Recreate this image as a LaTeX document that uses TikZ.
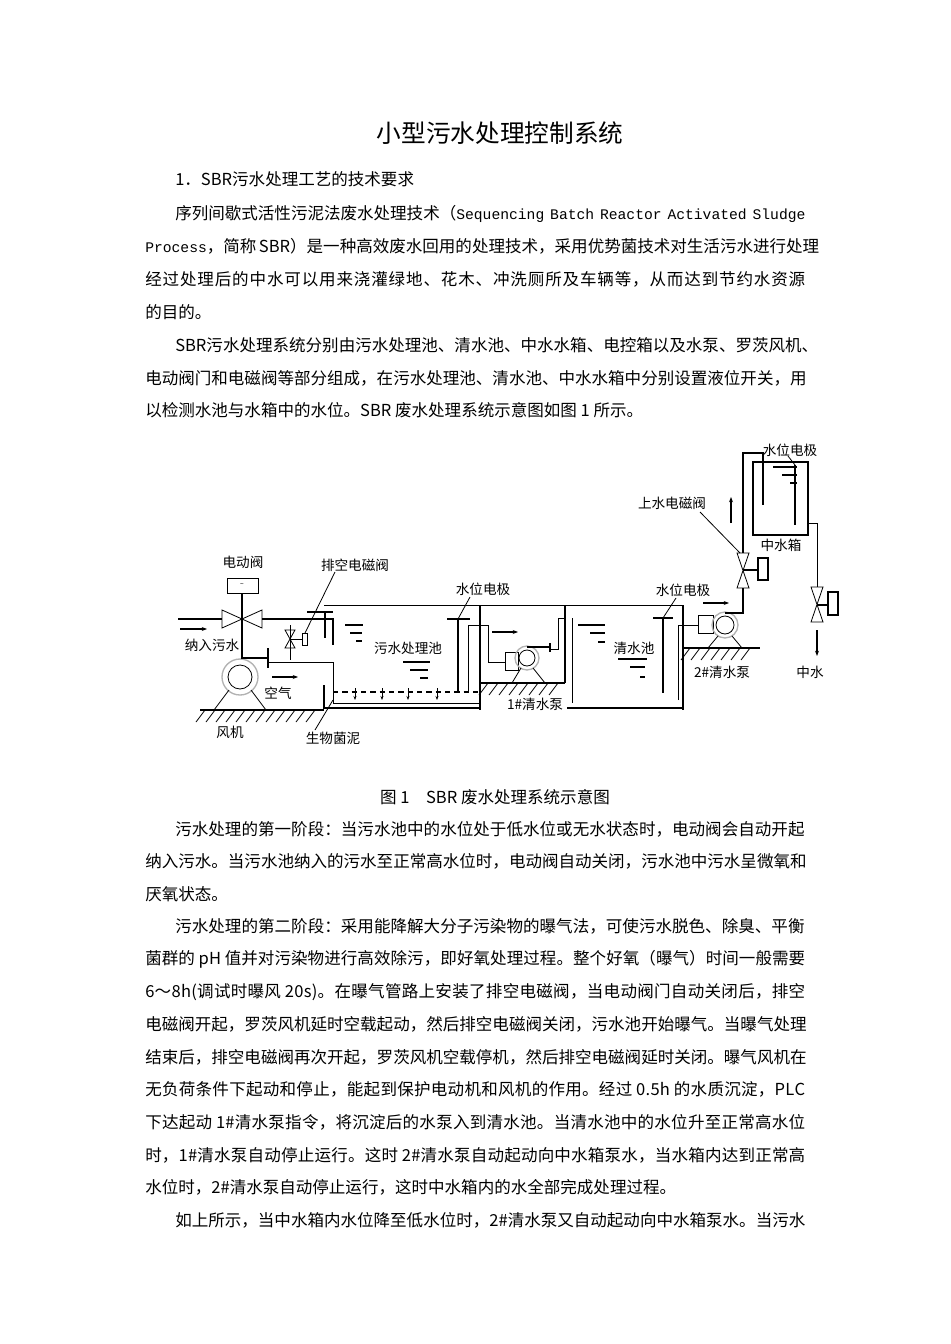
\documentclass[tikz,border=0pt]{standalone}
\usepackage{fontspec}
\setmainfont{Noto Sans CJK SC}
\newfontfamily\monof{Liberation Mono}
\usetikzlibrary{arrows.meta}
\newcommand\gl{\hskip 0pt plus 2pt\relax}
\XeTeXinterchartoks 0 0 {\gl}
\XeTeXinterchartoks 0 1 {\gl}
\XeTeXinterchartoks 1 0 {\gl}
\XeTeXinterchartoks 1 1 {\gl}
\XeTeXinterchartoks 1 2 {\gl}
\XeTeXinterchartoks 1 3 {\gl}
\XeTeXinterchartoks 3 1 {\gl}
\XeTeXinterchartoks 2 1 {\gl}
\XeTeXinterchartoks 3 0 {\gl}
\XeTeXinterchartoks 0 3 {\gl}
\XeTeXinterchartoks 0 2 {\gl}
\XeTeXinterchartoks 2 0 {\gl}
\newcommand\fullA[1]{\makebox[472pt][s]{\XeTeXinterchartokenstate=1 #1}}
\newcommand\fullB[1]{\makebox[495pt][s]{\XeTeXinterchartokenstate=1 #1}}
\newcommand\mo[1]{{\fontsize{11}{12}\monof #1}}
\begin{document}
\begin{tikzpicture}[x=0.75pt,y=-0.75pt,
 body/.style={anchor=base west,inner sep=0pt,font=\fontsize{12.4}{13}\selectfont},
 lab/.style={inner sep=0pt,font=\fontsize{10.2}{11}\selectfont},
 thk/.style={line width=1.6pt},
 thn/.style={line width=0.6pt},
 arr/.style={-{Stealth[length=4pt]},line width=1pt}]
\fill[white] (0,0) rectangle (950,1344);
\node[inner sep=0,font=\fontsize{18.5}{20}\selectfont] (title) at (500,133) {小型污水处理控制系统};
\node[body] (l1) at (175,186) {1．SBR污水处理工艺的技术要求};
\node[body] (l2) at (175,220) {\fullA{序列间歇式活性污泥法废水处理技术（\mo{Sequencing Batch Reactor Activated Sludge}}};
\node[body] (l3) at (145,253) {\fullB{\mo{Process}，简称 SBR）是一种高效废水回用的处理技术，采用优势菌技术对生活污水进行处理}};
\node[body] (l4) at (145,286) {\fullB{经过处理后的中水可以用来浇灌绿地、花木、冲洗厕所及车辆等，从而达到节约水资源}};
\node[body] (l5) at (145,319) {的目的。};
\node[body] (l6) at (175,351) {\fullA{SBR污水处理系统分别由污水处理池、清水池、中水水箱、电控箱以及水泵、罗茨风机、}};
\node[body] (l7) at (145,384) {\fullB{电动阀门和电磁阀等部分组成，在污水处理池、清水池、中水水箱中分别设置液位开关，用}};
\node[body] (l8) at (145,416) {以检测水池与水箱中的水位。SBR 废水处理系统示意图如图 1 所示。};
\node[body,anchor=base] (cap) at (495,803) {图 1\quad SBR 废水处理系统示意图};
\node[body] (p1) at (175,835) {\fullA{污水处理的第一阶段：当污水池中的水位处于低水位或无水状态时，电动阀会自动开起}};
\node[body] (p2) at (145,867) {\fullB{纳入污水。当污水池纳入的污水至正常高水位时，电动阀自动关闭，污水池中污水呈微氧和}};
\node[body] (p3) at (145,900) {厌氧状态。};
\node[body] (p4) at (175,932) {\fullA{污水处理的第二阶段：采用能降解大分子污染物的曝气法，可使污水脱色、除臭、平衡}};
\node[body] (p5) at (145,964) {\fullB{菌群的 pH 值并对污染物进行高效除污，即好氧处理过程。整个好氧（曝气）时间一般需要}};
\node[body] (p6) at (145,997) {\fullB{6～8h(调试时曝风 20s)。在曝气管路上安装了排空电磁阀，当电动阀门自动关闭后，排空}};
\node[body] (p7) at (145,1030) {\fullB{电磁阀开起，罗茨风机延时空载起动，然后排空电磁阀关闭，污水池开始曝气。当曝气处理}};
\node[body] (p8) at (145,1063) {\fullB{结束后，排空电磁阀再次开起，罗茨风机空载停机，然后排空电磁阀延时关闭。曝气风机在}};
\node[body] (p9) at (145,1095) {\fullB{无负荷条件下起动和停止，能起到保护电动机和风机的作用。经过 0.5h 的水质沉淀，PLC}};
\node[body] (p10) at (145,1128) {\fullB{下达起动 1\#清水泵指令，将沉淀后的水泵入到清水池。当清水池中的水位升至正常高水位}};
\node[body] (p11) at (145,1161) {\fullB{时，1\#清水泵自动停止运行。这时 2\#清水泵自动起动向中水箱泵水，当水箱内达到正常高}};
\node[body] (p12) at (145,1193) {水位时，2\#清水泵自动停止运行，这时中水箱内的水全部完成处理过程。};
\node[body] (p13) at (175,1226) {\fullA{如上所示，当中水箱内水位降至低水位时，2\#清水泵又自动起动向中水箱泵水。当污水}};

% ===== diagram =====
\draw[thk] (200,710) -- (324,710);
\foreach \i in {205,215,...,315} \draw[thn] (\i,710) -- (\i-9,722);
\draw[gray!60,line width=1pt] (240,677) circle (18);
\draw[thn] (240,677) circle (12);
\draw[thn] (229,690) -- (214,710) (251,690) -- (266,710);
\draw[arr] (272,677) -- (298,677);
\draw[thn] (227,578) rectangle (258,593);
\node[font=\tiny] at (242,585) {\textasciitilde};
\draw[thk] (178,619) -- (222,619);
\draw[thn] (222,610) -- (262,628) -- (262,610) -- (222,628) -- cycle;
\draw[thk] (242,593) -- (242,658) -- (268,658);
\draw[thk] (268,648) -- (268,668);
\draw[thk] (262,619) -- (333,619) -- (333,645);
\draw[thk] (307,612) -- (333,612);
\draw[thk] (325,612) -- (325,638);
\draw[arr] (180,629) -- (207,629);
\draw[thn] (290,625) -- (290,660);
\draw[thn] (285,630) -- (295,648) -- (285,648) -- (295,630) -- cycle;
\draw[thn] (290,639) -- (302,639);
\draw[thn] (302,633) rectangle (307,645);
\draw[thn] (305,633) -- (335,572);
\draw[thn] (324,605) -- (683,605);
\draw[thk] (324,685) -- (324,708) -- (480,708);
\draw[thk] (480,605) -- (480,710);
\draw[thn] (268,662) -- (333,662) -- (333,703) -- (480,703);
\draw[thk,dash pattern=on 4pt off 3pt] (333,692) -- (478,692);
\foreach \x in {355,382,408,437} \draw[-{Stealth[length=3pt]},thn] (\x,688) -- (\x,700);
\foreach \y/\a/\b in {625/345/363,633/350/362,641/356/362} \draw[thk] (\a,\y) -- (\b,\y);
\foreach \y/\a/\b in {662/403/430,670/410/428,678/420/428} \draw[thk] (\a,\y) -- (\b,\y);
\draw[thk] (447,619) -- (470,619) (458,619) -- (458,692);
\draw[thn] (458,619) -- (470,597);
\draw[thn] (468,692) -- (468,625) -- (488,625) -- (488,662) -- (505,662);
\draw[thk] (480,683) -- (565,683);
\foreach \i in {488,498,...,560} \draw[thn] (\i,683) -- (\i-9,695);
\draw[thk] (565,605) -- (565,683);
\draw[thn] (505,652) rectangle (518,670);
\draw[gray!60,line width=1pt] (527,658) circle (12);
\draw[thn] (527,658) circle (8);
\draw[thn] (521,668) -- (512,683) (533,668) -- (545,683);
\draw[thk] (527,647) -- (550,647);
\draw[thk] (550,643) -- (550,652);
\draw[thn] (550,649) -- (558,649) -- (558,618) -- (566,618);
\draw[arr] (492,632) -- (518,632);
\draw[thn] (572,618) -- (572,703);
\draw[thk] (567,708) -- (683,708);
\draw[thk] (683,605) -- (683,710);
\foreach \y/\a/\b in {625/578/605,633/590/605,642/598/605} \draw[thk] (\a,\y) -- (\b,\y);
\foreach \y/\a/\b in {659/618/647,667/630/645,677/640/645} \draw[thk] (\a,\y) -- (\b,\y);
\draw[thk] (653,618) -- (673,618) (663,618) -- (663,693);
\draw[thn] (663,618) -- (676,598);
\draw[thn] (678,700) -- (678,625) -- (698,625);
\draw[thk] (683,648) -- (760,648);
\foreach \i in {690,700,...,755} \draw[thn] (\i,648) -- (\i-9,660);
\draw[thn] (698,615) rectangle (713,633);
\draw[gray!60,line width=1pt] (725,625) circle (13);
\draw[thn] (725,625) circle (9);
\draw[thn] (718,636) -- (708,648) (732,636) -- (742,648);
\draw[arr] (703,603) -- (729,603);
\draw[thk] (725,613) -- (743,613) -- (743,588);
\draw[thn] (737,553) -- (749,588) -- (737,588) -- (749,553) -- cycle;
\draw[thk] (743,570) -- (758,570);
\draw[thk] (758,558) rectangle (768,580);
\draw[thk] (743,553) -- (743,453) -- (763,453) -- (763,505);
\draw[thn] (740,553) -- (700,512);
\draw[arr] (731,523) -- (731,497);
\draw[thk] (753,462) rectangle (808,535);
\foreach \y/\a/\b in {467/773/797,475/782/797,483/790/797} \draw[thk] (\a,\y) -- (\b,\y);
\draw[thk] (795,465) -- (795,525);
\draw[thn] (795,465) -- (788,456);
\draw[thn] (808,523) -- (817,523) -- (817,587);
\draw[thn] (811,587) -- (823,622) -- (811,622) -- (823,587) -- cycle;
\draw[thk] (817,605) -- (828,605);
\draw[thk] (828,592) rectangle (838,615);
\draw[arr] (817,630) -- (817,656);
\node[lab] (t1) at (243,562) {电动阀};
\node[lab] (t2) at (355,565) {排空电磁阀};
\node[lab] (t3) at (212,645) {纳入污水};
\node[lab] (t4) at (278,693) {空气};
\node[lab] (t5) at (230,732) {风机};
\node[lab] (t6) at (333,738) {生物菌泥};
\draw[thn] (315,730) -- (333,700);
\node[lab] (t7) at (408,648) {污水处理池};
\node[lab] (t8) at (483,589) {水位电极};
\node[lab] (t9) at (535,704) {1\#清水泵};
\node[lab] (t10) at (634,648) {清水池};
\node[lab] (t11) at (683,590) {水位电极};
\node[lab] (t12) at (722,672) {2\#清水泵};
\node[lab] (t13) at (810,672) {中水};
\node[lab] (t14) at (781,545) {中水箱};
\node[lab] (t15) at (790,450) {水位电极};
\node[lab] (t16) at (672,503) {上水电磁阀};
\end{tikzpicture}
\end{document}
